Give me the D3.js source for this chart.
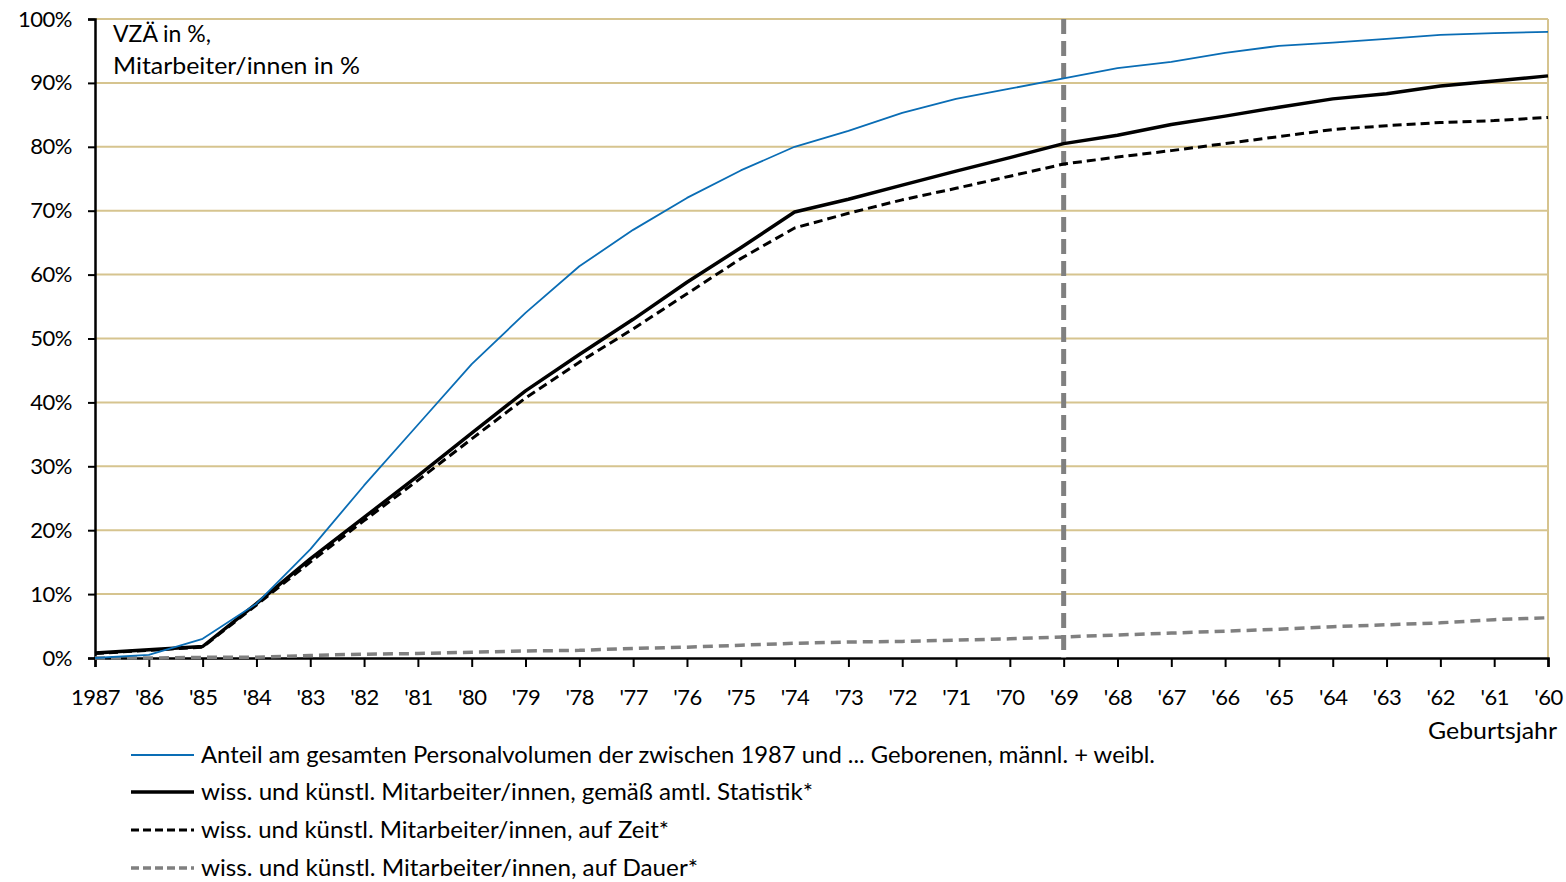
<!DOCTYPE html>
<html><head><meta charset="utf-8">
<script src="https://cdn.jsdelivr.net/npm/d3@7"></script>
<style>body{margin:0;background:#fff}svg{display:block}text{font-family:Lato,"Open Sans",sans-serif;fill:#000}</style>
</head><body><svg id="c" width="1566" height="882"></svg>
<script>
const categories = ["1987","'86","'85","'84","'83","'82","'81","'80","'79","'78","'77","'76","'75","'74","'73","'72","'71","'70","'69","'68","'67","'66","'65","'64","'63","'62","'61","'60"];
const anteil   = [0,0.5,3.0,8.5,17,27,36.5,46,54,61.3,67,72,76.3,80,82.5,85.3,87.5,89.1,90.7,92.3,93.3,94.7,95.8,96.3,96.9,97.5,97.8,98.0];
const amtlich  = [0.8,1.3,1.8,8.5,15.5,22,28.5,35.2,41.8,47.5,53,58.8,64.2,69.8,71.8,74,76.2,78.3,80.5,81.8,83.5,84.8,86.2,87.5,88.3,89.5,90.3,91.1];
const aufZeit  = [0.7,1.2,1.7,8.3,15,21.5,27.8,34.3,40.7,46.3,51.5,57,62.5,67.3,69.6,71.7,73.5,75.4,77.3,78.4,79.4,80.5,81.6,82.7,83.3,83.8,84.1,84.6];
const aufDauer = [0,0,0.1,0.1,0.4,0.6,0.7,0.9,1.1,1.2,1.5,1.7,2.0,2.3,2.5,2.6,2.8,3.0,3.3,3.6,3.9,4.2,4.5,4.9,5.2,5.5,6.0,6.3];
const yTicks = [0,10,20,30,40,50,60,70,80,90,100];
const markerCategory = "'69";
const legendLabels = [
 "Anteil am gesamten Personalvolumen der zwischen 1987 und ... Geborenen, männl. + weibl.",
 "wiss. und  künstl. Mitarbeiter/innen, gemäß amtl. Statistik*",
 "wiss. und künstl. Mitarbeiter/innen, auf Zeit*",
 "wiss. und  künstl. Mitarbeiter/innen, auf Dauer*"
];

const svg = d3.select("#c");
const L=95,R=1548,T=19,B=658;
const x = d3.scalePoint().domain(categories).range([L,R]);
const y = d3.scaleLinear().domain([0,100]).range([B,T]);
const grid="#d6c48f";

svg.append("g").selectAll("line").data(yTicks.filter(d=>d>0)).join("line")
 .attr("x1",L).attr("x2",R).attr("y1",d=>y(d)).attr("y2",d=>y(d))
 .attr("stroke",grid).attr("stroke-width",2);
svg.append("line").attr("x1",R).attr("x2",R).attr("y1",T).attr("y2",B).attr("stroke",grid).attr("stroke-width",2);

const ya = svg.append("g").attr("transform",`translate(${L},0)`)
 .call(d3.axisLeft(y).tickValues(yTicks).tickFormat(d=>d+"%").tickSize(7).tickPadding(16));
ya.select(".domain").attr("stroke","#000").attr("stroke-width",2.5);
ya.selectAll(".tick line").attr("stroke","#000").attr("stroke-width",2);
ya.selectAll("text").attr("font-size",22).attr("font-family","Lato").attr("letter-spacing","-0.5");

const xa = svg.append("g").attr("transform",`translate(0,${B})`)
 .call(d3.axisBottom(x).tickSize(9).tickPadding(22));
xa.select(".domain").attr("stroke","#000").attr("stroke-width",2.5);
xa.selectAll(".tick line").attr("stroke","#000").attr("stroke-width",2);
xa.selectAll("text").attr("font-size",22).attr("font-family","Lato").attr("letter-spacing","-0.5");

svg.append("line").attr("x1",x(markerCategory)).attr("x2",x(markerCategory)).attr("y1",T).attr("y2",B)
 .attr("stroke","#808080").attr("stroke-width",5).attr("stroke-dasharray","15,7");

const line = d3.line().x((d,i)=>x(categories[i])).y(d=>y(d));
const series = [
 {v:aufDauer, c:"#808080", w:3.5, dash:"10,6"},
 {v:aufZeit, c:"#000", w:3, dash:"9,5"},
 {v:amtlich, c:"#000", w:3.5, dash:null},
 {v:anteil, c:"#0a6db5", w:1.8, dash:null}
];
series.forEach(s=>{
 svg.append("path").attr("d",line(s.v)).attr("fill","none").attr("stroke",s.c)
  .attr("stroke-width",s.w).attr("stroke-dasharray",s.dash).attr("stroke-linejoin","round");
});

svg.append("text").attr("x",113).attr("y",42).attr("font-size",23).attr("textLength",98).attr("lengthAdjust","spacingAndGlyphs").text("VZÄ in %,");
svg.append("text").attr("x",113).attr("y",74).attr("font-size",23).attr("textLength",247).attr("lengthAdjust","spacingAndGlyphs").text("Mitarbeiter/innen in %");
svg.append("text").attr("x",1428).attr("y",739).attr("font-size",23).attr("textLength",129).attr("lengthAdjust","spacingAndGlyphs").text("Geburtsjahr");

const legStyles=[series[3],series[2],series[1],series[0]];
const legY=[755,792,830,868];
const legW=[954,612,468,497];
legendLabels.forEach((t,i)=>{
 const s=legStyles[i];
 svg.append("line").attr("x1",131).attr("x2",194).attr("y1",legY[i]).attr("y2",legY[i])
  .attr("stroke",s.c).attr("stroke-width",s.w).attr("stroke-dasharray",s.dash?"8,4":null);
 svg.append("text").attr("x",201).attr("y",legY[i]+8).attr("font-size",23)
  .attr("textLength",legW[i]).attr("lengthAdjust","spacingAndGlyphs").text(t);
});
</script></body></html>
